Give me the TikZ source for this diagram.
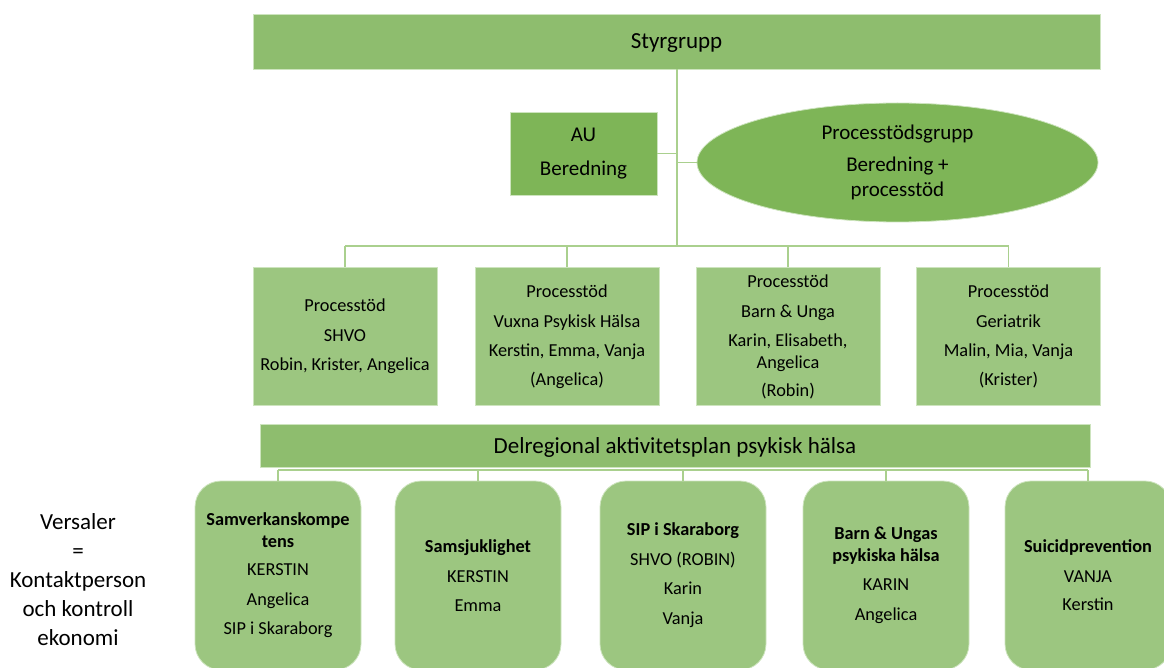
\documentclass[tikz,border=0pt]{standalone}
\usepackage{fontspec}
\setmainfont{Carlito}
\usetikzlibrary{shapes.geometric}

\definecolor{topgreen}{RGB}{142,189,110}
\definecolor{darkgreen}{RGB}{126,181,87}
\definecolor{boxgreen}{RGB}{156,198,128}
\definecolor{linegreen}{RGB}{170,208,142}
\definecolor{edgegreen}{RGB}{205,228,190}

\newcommand{\txtbig}{\fontsize{23}{29}\selectfont}
\newcommand{\txtmid}{\fontsize{21}{25}\selectfont}
\newcommand{\txtsmall}{\fontsize{18.3}{22}\selectfont}

\begin{document}
\begin{tikzpicture}[x=1pt,y=-1pt,
    every node/.style={align=center,inner sep=0pt,draw=edgegreen,line width=0.8pt},
    bar/.style={rectangle,fill=topgreen,font=\txtbig,text depth=0pt},
    aubox/.style={rectangle,fill=darkgreen,font=\txtmid},
    psbox/.style={rectangle,fill=boxgreen,font=\txtsmall,minimum width=184,minimum height=138},
    areabox/.style={rectangle,rounded corners=26,fill=boxgreen,font=\txtsmall,minimum width=166,minimum height=189},
    link/.style={draw=linegreen,line width=1.3pt}]

      \useasboundingbox (0,0) rectangle (1164,668);

      \node[bar,minimum width=847,minimum height=55] (S) at (676.5,41.5) {Styrgrupp};
      \coordinate (bus) at (677,246);
        \draw[link] (S.south -| bus) -- (bus);

      \node[aubox,minimum width=147,minimum height=83] (AU) at (583.5,153.5) {AU\\[9pt]Beredning};
        \draw[link] (AU.east) -- (AU.east -| bus);

      \node[ellipse,fill=darkgreen,font=\txtmid,minimum width=401,minimum height=119] (PG) at (897.5,162.5)
        {Processtödsgrupp\\[7pt]Beredning +\\processtöd};
        \draw[link] (PG.west) -- (PG.west -| bus);

      \node[psbox] (P1) at (345,336.5) {Processtöd\\[8pt]SHVO\\[7pt]Robin, Krister, Angelica};
      \node[psbox] (P2) at (567,336.5) {Processtöd\\[8pt]Vuxna Psykisk Hälsa\\[7pt]Kerstin, Emma, Vanja\\[7pt](Angelica)};
      \node[psbox] (P3) at (788,336.5) {Processtöd\\[8pt]Barn \& Unga\\[7pt]Karin, Elisabeth,\\Angelica\\[6pt](Robin)};
      \node[psbox] (P4) at (1008.5,336.5) {Processtöd\\[8pt]Geriatrik\\[7pt]Malin, Mia, Vanja\\[7pt](Krister)};
        \draw[link] (P1.north |- bus) -- (P4.north |- bus);
        \foreach \p in {P1,P2,P3,P4}
          \draw[link] (\p.north) -- (\p.north |- bus);

      \node[bar,minimum width=830,minimum height=43] (D) at (675,445.5) {Delregional aktivitetsplan psykisk hälsa};
      \coordinate (lbus) at (0,470);

      \node[areabox] (A1) at (278,575.5) {\textbf{Samverkanskompe}\\\textbf{tens}\\[6pt]KERSTIN\\[8pt]Angelica\\[7pt]SIP i Skaraborg};
      \node[areabox] (A2) at (478,575.5) {\textbf{Samsjuklighet}\\[8pt]KERSTIN\\[7pt]Emma};
      \node[areabox] (A3) at (683,575.5) {\textbf{SIP i Skaraborg}\\[8pt]SHVO (ROBIN)\\[7pt]Karin\\[8pt]Vanja};
      \node[areabox] (A4) at (886,575.5) {\textbf{Barn \& Ungas}\\\textbf{psykiska hälsa}\\[7pt]KARIN\\[8pt]Angelica};
      \node[areabox] (A5) at (1088,575.5) {\textbf{Suicidprevention}\\[8pt]VANJA\\[6pt]Kerstin};
        \draw[link] (A1.north |- lbus) -- (A5.north |- lbus);
        \foreach \a in {A1,A2,A3,A4,A5}
          \draw[link] (\a.north) -- (\a.north |- lbus);

      \node[draw=none,font=\txtbig] (V) at (78,580) {Versaler\\=\\Kontaktperson\\och kontroll\\ekonomi};

    \end{tikzpicture}
\end{document}
